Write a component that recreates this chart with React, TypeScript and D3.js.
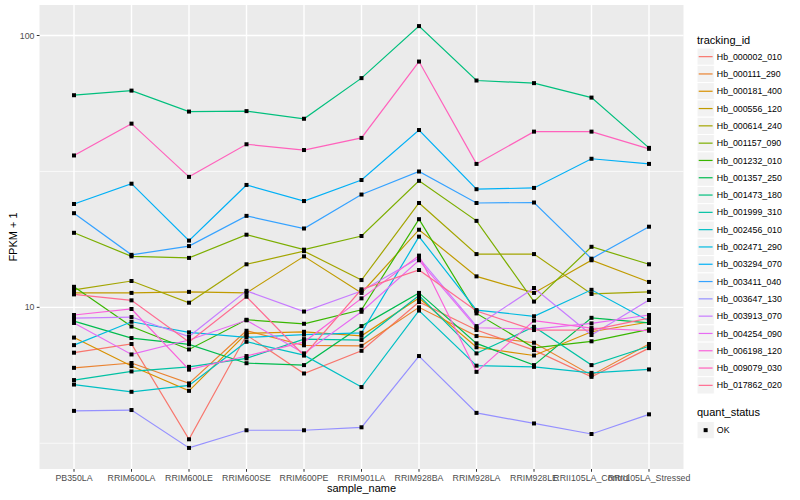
import React from "react";
import * as d3 from "d3";

// --- data (FPKM + 1) ---
const SAMPLES = [
  "PB350LA",
  "RRIM600LA",
  "RRIM600LE",
  "RRIM600SE",
  "RRIM600PE",
  "RRIM901LA",
  "RRIM928BA",
  "RRIM928LA",
  "RRIM928LE",
  "RRII105LA_Control",
  "RRII105LA_Stressed",
];

const Hb_000002_010 = [6.81, 7.33, 3.27, 7.91, 5.71, 6.92, 10.46, 8.25, 6.96, 5.55, 7.08];
const Hb_000111_290 = [5.99, 6.24, 5.25, 8.2, 7.25, 7.22, 10.0, 7.84, 7.41, 5.63, 7.33];
const Hb_000181_400 = [7.74, 6.08, 4.93, 8.02, 8.13, 7.86, 10.82, 7.13, 6.65, 8.13, 8.83];
const Hb_000556_120 = [11.3, 11.3, 11.4, 11.3, 15.4, 11.3, 19.3, 13.0, 11.3, 14.9, 12.4];
const Hb_000614_240 = [11.6, 12.5, 10.4, 14.4, 16.1, 12.6, 24.2, 15.7, 15.7, 11.2, 11.4];
const Hb_001157_090 = [18.8, 15.4, 15.2, 18.5, 16.3, 18.3, 29.2, 20.8, 10.5, 16.7, 14.4];
const Hb_001232_010 = [11.9, 8.5, 7.0, 9.0, 8.7, 9.8, 21.1, 9.5, 7.1, 7.5, 8.3];
const Hb_001357_250 = [8.9, 7.71, 7.31, 6.23, 6.13, 8.53, 11.3, 7.37, 6.13, 9.15, 8.76];
const Hb_001473_180 = [60.3, 62.7, 52.5, 52.7, 49.4, 69.7, 108.3, 68.3, 66.8, 59.1, 38.6];
const Hb_001999_310 = [5.4, 5.81, 6.04, 6.49, 7.64, 7.58, 11.05, 6.77, 8.48, 6.13, 7.19];
const Hb_002456_010 = [5.2, 4.89, 5.16, 7.47, 6.67, 5.09, 9.73, 6.1, 6.04, 5.74, 5.91];
const Hb_002471_290 = [7.26, 8.85, 8.09, 7.75, 7.94, 8.06, 18.2, 9.77, 9.27, 11.6, 8.9];
const Hb_003294_070 = [24.0, 28.5, 17.6, 28.2, 24.6, 29.4, 44.9, 27.2, 27.5, 35.2, 33.7];
const Hb_003411_040 = [22.2, 15.6, 16.8, 21.7, 19.5, 26.0, 31.6, 24.2, 24.3, 15.1, 19.8];
const Hb_003647_130 = [4.16, 4.19, 3.04, 3.53, 3.53, 3.62, 6.62, 4.09, 3.74, 3.42, 4.04];
const Hb_003913_070 = [9.13, 9.21, 7.81, 11.5, 9.65, 11.48, 15.2, 8.53, 11.78, 7.91, 10.64];
const Hb_004254_090 = [8.76, 6.71, 7.58, 8.96, 6.77, 9.63, 14.9, 8.41, 8.32, 8.73, 9.37];
const Hb_006198_120 = [9.37, 9.86, 5.9, 6.62, 7.45, 10.79, 15.5, 5.79, 8.94, 8.39, 8.2];
const Hb_009079_030 = [36.2, 47.4, 30.2, 39.8, 37.9, 42.0, 80.2, 33.7, 44.3, 44.3, 38.3];
const Hb_017862_020 = [11.16, 10.61, 7.45, 10.94, 6.65, 11.65, 13.72, 9.69, 8.25, 8.25, 9.13];

const GENES = [
  "Hb_000002_010",
  "Hb_000111_290",
  "Hb_000181_400",
  "Hb_000556_120",
  "Hb_000614_240",
  "Hb_001157_090",
  "Hb_001232_010",
  "Hb_001357_250",
  "Hb_001473_180",
  "Hb_001999_310",
  "Hb_002456_010",
  "Hb_002471_290",
  "Hb_003294_070",
  "Hb_003411_040",
  "Hb_003647_130",
  "Hb_003913_070",
  "Hb_004254_090",
  "Hb_006198_120",
  "Hb_009079_030",
  "Hb_017862_020",
];

const VALUES = [
  Hb_000002_010, Hb_000111_290, Hb_000181_400, Hb_000556_120, Hb_000614_240,
  Hb_001157_090, Hb_001232_010, Hb_001357_250, Hb_001473_180, Hb_001999_310,
  Hb_002456_010, Hb_002471_290, Hb_003294_070, Hb_003411_040, Hb_003647_130,
  Hb_003913_070, Hb_004254_090, Hb_006198_120, Hb_009079_030, Hb_017862_020,
];

// ggplot2 default hue palette for 20 levels
const COLORS = [
  "#F8766D", "#EA8331", "#D89000", "#C09B00", "#A3A500",
  "#7CAE00", "#39B600", "#00BB4E", "#00BF7D", "#00C1A3",
  "#00BFC4", "#00BAE0", "#00B0F6", "#35A2FF", "#9590FF",
  "#C77CFF", "#E76BF3", "#FA62DB", "#FF62BC", "#FF6C91",
];

const Y_TICKS = [10, 100];
const Y_MINOR = [Math.sqrt(10), Math.sqrt(1000)];

// --- layout ---
const W = 800;
const H = 500;
const PANEL = { left: 39.5, right: 683.5, top: 5, bottom: 469 };
const FONT = "'Liberation Sans', Arial, Helvetica, sans-serif";
const LEGEND_X = 697;
const KEY = 17.3;

export default function App() {
  const x = d3
    .scalePoint<string>()
    .domain(SAMPLES)
    .range([PANEL.left, PANEL.right])
    .padding(0.6);

  // log scale with ggplot's 5% expansion on the transformed range
  const all = VALUES.flat();
  const lo = Math.log10(d3.min(all) as number);
  const hi = Math.log10(d3.max(all) as number);
  const pad = (hi - lo) * 0.05;
  const y = d3
    .scaleLog()
    .domain([10 ** (lo - pad), 10 ** (hi + pad)])
    .range([PANEL.bottom, PANEL.top]);

  const line = d3
    .line<number>()
    .x((_, i) => x(SAMPLES[i]) as number)
    .y((d) => y(d));

  const legendTop = 48;

  return (
    <div style={{ position: "absolute", left: 0, top: 0 }}>
      <svg width={W} height={H} style={{ display: "block", background: "#fff" }}>
        {/* panel */}
        <rect
          x={PANEL.left}
          y={PANEL.top}
          width={PANEL.right - PANEL.left}
          height={PANEL.bottom - PANEL.top}
          fill="#EBEBEB"
        />
        {Y_MINOR.map((v) => (
          <line key={"mn" + v} x1={PANEL.left} x2={PANEL.right} y1={y(v)} y2={y(v)} stroke="#fff" strokeWidth={0.7} />
        ))}
        {Y_TICKS.map((v) => (
          <line key={"mj" + v} x1={PANEL.left} x2={PANEL.right} y1={y(v)} y2={y(v)} stroke="#fff" strokeWidth={1.4} />
        ))}
        {SAMPLES.map((s) => (
          <line key={"vx" + s} x1={x(s)} x2={x(s)} y1={PANEL.top} y2={PANEL.bottom} stroke="#fff" strokeWidth={1.4} />
        ))}

        {/* series */}
        {VALUES.map((vals, i) => (
          <path key={GENES[i]} d={line(vals) || ""} fill="none" stroke={COLORS[i]} strokeWidth={1.2} />
        ))}
        {VALUES.map((vals, i) =>
          vals.map((v, j) => (
            <rect
              key={GENES[i] + j}
              x={(x(SAMPLES[j]) as number) - 2}
              y={y(v) - 2}
              width={4}
              height={4}
              fill="#000"
            />
          ))
        )}

        {/* y axis */}
        {Y_TICKS.map((v) => (
          <g key={"yt" + v}>
            <line x1={PANEL.left - 2.75} x2={PANEL.left} y1={y(v)} y2={y(v)} stroke="#333" strokeWidth={1} />
            <text
              x={PANEL.left - 5}
              y={y(v)}
              dy="0.35em"
              textAnchor="end"
              fontFamily={FONT}
              fontSize={8.8}
              fill="#4D4D4D"
            >
              {v}
            </text>
          </g>
        ))}
        <text
          transform={`translate(17, ${(PANEL.top + PANEL.bottom) / 2}) rotate(-90)`}
          textAnchor="middle"
          fontFamily={FONT}
          fontSize={11}
          fill="#000"
        >
          FPKM + 1
        </text>

        {/* x axis */}
        {SAMPLES.map((s) => (
          <g key={"xt" + s}>
            <line x1={x(s)} x2={x(s)} y1={PANEL.bottom} y2={PANEL.bottom + 2.75} stroke="#333" strokeWidth={1} />
            <text
              x={x(s)}
              y={PANEL.bottom + 11.5}
              textAnchor="middle"
              fontFamily={FONT}
              fontSize={8.8}
              fill="#4D4D4D"
            >
              {s}
            </text>
          </g>
        ))}
        <text
          x={(PANEL.left + PANEL.right) / 2}
          y={492}
          textAnchor="middle"
          fontFamily={FONT}
          fontSize={11}
          fill="#000"
        >
          sample_name
        </text>

        {/* legend: tracking_id */}
        <text x={LEGEND_X} y={44} fontFamily={FONT} fontSize={11} fill="#000">
          tracking_id
        </text>
        {GENES.map((g, i) => {
          const top = legendTop + i * KEY;
          return (
            <g key={"lg" + g}>
              <rect x={LEGEND_X} y={top} width={KEY} height={KEY} fill="#F2F2F2" stroke="#fff" strokeWidth={1} />
              <line
                x1={LEGEND_X + 1.7}
                x2={LEGEND_X + KEY - 1.7}
                y1={top + KEY / 2}
                y2={top + KEY / 2}
                stroke={COLORS[i]}
                strokeWidth={1.2}
              />
              <text x={LEGEND_X + KEY + 2.5} y={top + KEY / 2} dy="0.35em" fontFamily={FONT} fontSize={8.8} fill="#000">
                {g}
              </text>
            </g>
          );
        })}

        {/* legend: quant_status */}
        <text x={LEGEND_X} y={416} fontFamily={FONT} fontSize={11} fill="#000">
          quant_status
        </text>
        <rect x={LEGEND_X} y={421.5} width={KEY} height={KEY} fill="#F2F2F2" stroke="#fff" strokeWidth={1} />
        <rect x={LEGEND_X + KEY / 2 - 2} y={421.5 + KEY / 2 - 2} width={4} height={4} fill="#000" />
        <text x={LEGEND_X + KEY + 2.5} y={421.5 + KEY / 2} dy="0.35em" fontFamily={FONT} fontSize={8.8} fill="#000">
          OK
        </text>
      </svg>
    </div>
  );
}
